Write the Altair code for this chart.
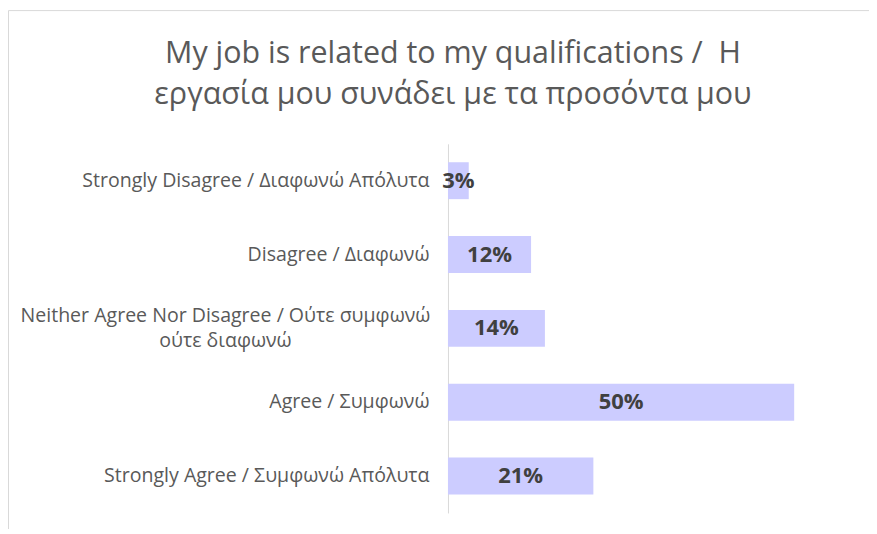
import altair as alt
import pandas as pd

categories = [
    "Strongly Disagree / Διαφωνώ Απόλυτα",
    "Disagree / Διαφωνώ",
    "Neither Agree Nor Disagree / Ούτε συμφωνώ\nούτε διαφωνώ",
    "Agree / Συμφωνώ",
    "Strongly Agree / Συμφωνώ Απόλυτα",
]
values = [0.03, 0.12, 0.14, 0.50, 0.21]
title_lines = ["My job is related to my qualifications /\u00a0 H", "εργασία μου συνάδει με τα προσόντα μου"]

df = pd.DataFrame({"category": categories, "value": values})

FONT = "Open Sans"
LABEL_GRAY = "#595959"
LABEL_SIZE = 19.6

base = alt.Chart(df).encode(
    y=alt.Y(
        "category:N",
        sort=categories,
        scale=alt.Scale(paddingInner=0.5, paddingOuter=0.25),
        axis=alt.Axis(
            title=None,
            ticks=False,
            domainColor="#d9d9d9",
            labelPadding=19,
            labelFont=FONT,
            labelFontSize=LABEL_SIZE,
            labelColor=LABEL_GRAY,
            labelLimit=0,
            labelExpr="indexof(datum.label, '\\n') >= 0 ? '' : datum.label",
        ),
    )
)

bars = base.mark_bar(color="#CCCCFF").encode(
    x=alt.X("value:Q", scale=alt.Scale(domain=[0, 0.5], nice=False), axis=None)
)

texts = base.transform_calculate(half="datum.value / 2").mark_text(
    font=FONT, fontSize=22, fontWeight="bold", color="#404040", align="center", baseline="middle"
).encode(
    x=alt.X("half:Q"),
    text=alt.Text("value:Q", format=".0%"),
)

multi = base.transform_filter("indexof(datum.category, '\\n') >= 0").mark_text(
    font=FONT, fontSize=LABEL_SIZE, color=LABEL_GRAY, align="center", baseline="middle",
    lineBreak="\n", lineHeight=25, dx=-223, dy=-12.5,
).encode(
    x=alt.value(0),
    text="category:N",
)

frame_data = alt.Data(values=[{"k": 1}])
left_border = alt.Chart(frame_data).mark_rule(color="#d9d9d9", strokeWidth=1).encode(
    x=alt.value(-440.5), y=alt.value(-133.5), y2=alt.value(400)
)
top_border = alt.Chart(frame_data).mark_rule(color="#d9d9d9", strokeWidth=1).encode(
    x=alt.value(-440.5), x2=alt.value(500), y=alt.value(-133.5)
)
title_mark = alt.Chart(frame_data).mark_text(
    font=FONT, fontSize=30.5, color=LABEL_GRAY, align="center", baseline="alphabetic", lineHeight=41,
).encode(
    x=alt.value(5), y=alt.value(-81), text=alt.value(title_lines)
)

chart = alt.layer(left_border, top_border, title_mark, bars, texts, multi).properties(
    width=347,
    height=370,
    autosize=alt.AutoSizeParams(type="none"),
    padding={"left": 441, "top": 135.5, "right": 75, "bottom": 15},
).configure(background="white").configure_view(stroke=None)

chart.save("out.html", embed_options={"renderer": "svg", "actions": False})
